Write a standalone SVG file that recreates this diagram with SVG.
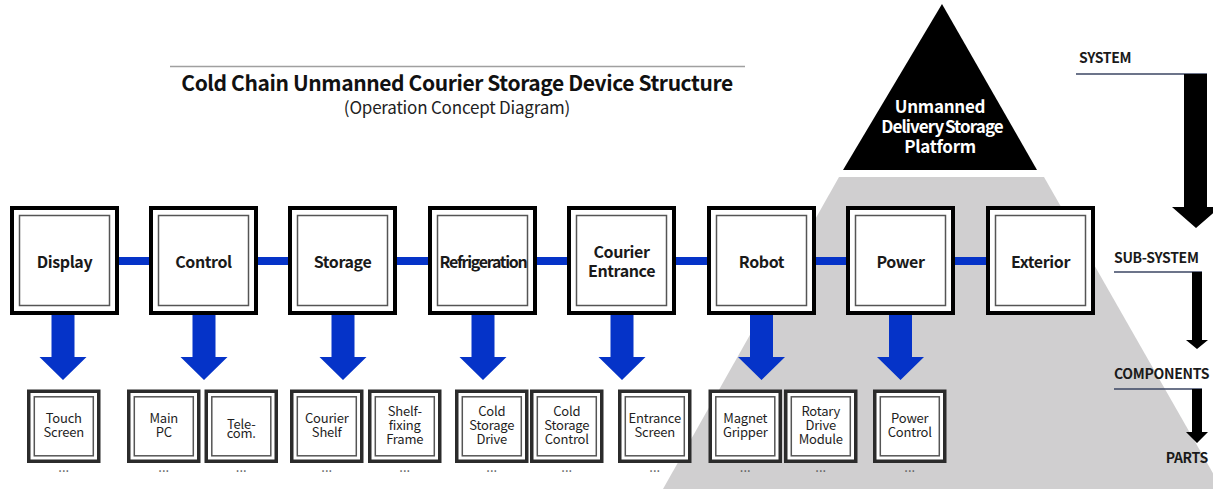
<svg xmlns="http://www.w3.org/2000/svg" width="1213" height="489" viewBox="0 0 1213 489">
<style>
  text { font-family: "Noto Sans CJK KR", "Noto Sans", "Liberation Sans", sans-serif; }
  .title { font-size: 21px; font-weight: 700; fill: #111; letter-spacing: -0.4px; }
  .subtitle { font-size: 17px; font-weight: 400; fill: #222; letter-spacing: -0.2px; }
  .sbo { fill: #fff; stroke: #000; stroke-width: 4; }
  .sbi { fill: none; stroke: #555; stroke-width: 1.5; }
  .slbl { font-size: 16px; font-weight: 700; fill: #1a1a1a; text-anchor: middle; letter-spacing: -0.4px; }
  .pbo { fill: #fff; stroke: #2b2b2b; stroke-width: 3.5; }
  .pbi { fill: none; stroke: #555; stroke-width: 1.5; }
  .plbl { font-size: 13px; font-weight: 400; fill: #1e1e1e; text-anchor: middle; letter-spacing: -0.2px; }
  .dots { font-size: 13px; fill: #555; text-anchor: middle; }
  .link { stroke: #0533c8; stroke-width: 8; }
  .barrow { fill: #0533c8; }
  .lvl { font-size: 14px; font-weight: 700; fill: #1a1a1a; letter-spacing: -0.3px; }
  .lvline { stroke: #3b4663; stroke-width: 1.5; }
  .pyr { font-size: 17px; font-weight: 700; fill: #fff; text-anchor: middle; letter-spacing: -0.3px; }
</style>

<!-- pyramid background -->
<polygon points="839,177 1044,177 1222,489 663,489" fill="#d0cfd0"/>
<g id="platform">
  <polygon points="942,4 1037,170 843,170" fill="#000"/>
  <text class="pyr" x="940" y="113">Unmanned</text>
  <text class="pyr" x="942" y="133" style="letter-spacing:-0.9px;word-spacing:-1.5px">Delivery Storage</text>
  <text class="pyr" x="940" y="153">Platform</text>
</g>

<!-- title -->
<g id="title">
  <line x1="170" y1="66.5" x2="745" y2="66.5" stroke="#a0a0a0" stroke-width="1.5"/>
  <text class="title" x="457" y="91" text-anchor="middle">Cold Chain Unmanned Courier Storage Device Structure</text>
  <text class="subtitle" x="457" y="114" text-anchor="middle">(Operation Concept Diagram)</text>
</g>

<!-- level legend -->
<g id="levels">
  <text class="lvl" x="1079" y="63">SYSTEM</text>
  <line class="lvline" x1="1076" y1="74" x2="1207" y2="74"/>
  <polygon points="1184,74 1207,74 1207,207 1220,207 1196,228 1172,207 1184,207" fill="#000"/>
  <text class="lvl" x="1114" y="263">SUB-SYSTEM</text>
  <line class="lvline" x1="1114" y1="272" x2="1202" y2="272"/>
  <polygon points="1192,272 1202,272 1202,340 1208,340 1197,349 1186,340 1192,340" fill="#000"/>
  <text class="lvl" x="1114" y="379">COMPONENTS</text>
  <line class="lvline" x1="1114" y1="389" x2="1202" y2="389"/>
  <polygon points="1192,389 1202,389 1202,432 1208,432 1197,443 1186,432 1192,432" fill="#000"/>
  <text class="lvl" x="1208" y="463" text-anchor="end">PARTS</text>
</g>

<!-- connectors -->
<g id="connectors">
  <line class="link" x1="119" y1="261" x2="149" y2="261"/>
  <line class="link" x1="258" y1="261" x2="288" y2="261"/>
  <line class="link" x1="397" y1="261" x2="428" y2="261"/>
  <line class="link" x1="537" y1="261" x2="567" y2="261"/>
  <line class="link" x1="676" y1="261" x2="707" y2="261"/>
  <line class="link" x1="816" y1="261" x2="846" y2="261"/>
  <line class="link" x1="955" y1="261" x2="986" y2="261"/>
  <polygon class="barrow" points="51.5,315 74.5,315 74.5,357 86.5,357 63,380 39.5,357 51.5,357"/>
  <polygon class="barrow" points="192.5,315 215.5,315 215.5,357 227.5,357 204,380 180.5,357 192.5,357"/>
  <polygon class="barrow" points="331.5,315 354.5,315 354.5,357 366.5,357 343,380 319.5,357 331.5,357"/>
  <polygon class="barrow" points="471.5,315 494.5,315 494.5,357 506.5,357 483,380 459.5,357 471.5,357"/>
  <polygon class="barrow" points="610.5,315 633.5,315 633.5,357 645.5,357 622,380 598.5,357 610.5,357"/>
  <polygon class="barrow" points="750,315 773,315 773,357 785,357 761.5,380 738,357 750,357"/>
  <polygon class="barrow" points="889,315 912,315 912,357 924,357 900.5,380 877,357 889,357"/>
</g>

<!-- sub-systems -->
<g id="display">
  <rect class="sbo" x="12" y="208" width="105" height="105"/>
  <rect class="sbi" x="19.5" y="215.5" width="90" height="90"/>
  <text class="slbl" x="64.5" y="268">Display</text>
</g>
<g id="control">
  <rect class="sbo" x="151" y="208" width="105" height="105"/>
  <rect class="sbi" x="158.5" y="215.5" width="90" height="90"/>
  <text class="slbl" x="203.5" y="268">Control</text>
</g>
<g id="storage">
  <rect class="sbo" x="290" y="208" width="105" height="105"/>
  <rect class="sbi" x="297.5" y="215.5" width="90" height="90"/>
  <text class="slbl" x="342.5" y="268">Storage</text>
</g>
<g id="refrigeration">
  <rect class="sbo" x="430" y="208" width="105" height="105"/>
  <rect class="sbi" x="437.5" y="215.5" width="90" height="90"/>
  <text class="slbl" x="483" y="268" style="letter-spacing:-1.3px">Refrigeration</text>
</g>
<g id="courier-entrance">
  <rect class="sbo" x="569" y="208" width="105" height="105"/>
  <rect class="sbi" x="576.5" y="215.5" width="90" height="90"/>
  <text class="slbl" x="621.5" y="258">Courier</text>
  <text class="slbl" x="621.5" y="277">Entrance</text>
</g>
<g id="robot">
  <rect class="sbo" x="709" y="208" width="105" height="105"/>
  <rect class="sbi" x="716.5" y="215.5" width="90" height="90"/>
  <text class="slbl" x="761.5" y="268">Robot</text>
</g>
<g id="power">
  <rect class="sbo" x="848" y="208" width="105" height="105"/>
  <rect class="sbi" x="855.5" y="215.5" width="90" height="90"/>
  <text class="slbl" x="900.5" y="268">Power</text>
</g>
<g id="exterior">
  <rect class="sbo" x="988" y="208" width="105" height="105"/>
  <rect class="sbi" x="995.5" y="215.5" width="90" height="90"/>
  <text class="slbl" x="1040.5" y="268">Exterior</text>
</g>

<!-- components / parts -->
<g id="touch-screen">
  <rect class="pbo" x="28.75" y="391.25" width="70" height="70"/>
  <rect class="pbi" x="34.3" y="396.8" width="59" height="59"/>
  <text class="plbl" x="63.75" y="422.5">Touch</text>
  <text class="plbl" x="63.75" y="436.5">Screen</text>
  <text class="dots" x="63.75" y="472">...</text>
</g>
<g id="main-pc">
  <rect class="pbo" x="128.75" y="391.25" width="70" height="70"/>
  <rect class="pbi" x="134.3" y="396.8" width="59" height="59"/>
  <text class="plbl" x="163.75" y="422.5">Main</text>
  <text class="plbl" x="163.75" y="436.5">PC</text>
  <text class="dots" x="163.75" y="472">...</text>
</g>
<g id="telecom">
  <rect class="pbo" x="206.25" y="391.25" width="70" height="70"/>
  <rect class="pbi" x="211.8" y="396.8" width="59" height="59"/>
  <text class="plbl" x="241.25" y="428.5">Tele-</text>
  <text class="plbl" x="241.25" y="438">com.</text>
  <text class="dots" x="241.25" y="472">...</text>
</g>
<g id="courier-shelf">
  <rect class="pbo" x="291.75" y="391.25" width="70" height="70"/>
  <rect class="pbi" x="297.3" y="396.8" width="59" height="59"/>
  <text class="plbl" x="326.75" y="422.5">Courier</text>
  <text class="plbl" x="326.75" y="436.5">Shelf</text>
  <text class="dots" x="326.75" y="472">...</text>
</g>
<g id="shelf-fixing-frame">
  <rect class="pbo" x="369.75" y="391.25" width="70" height="70"/>
  <rect class="pbi" x="375.3" y="396.8" width="59" height="59"/>
  <text class="plbl" x="404.75" y="415.5">Shelf-</text>
  <text class="plbl" x="404.75" y="429.5">fixing</text>
  <text class="plbl" x="404.75" y="443.5">Frame</text>
  <text class="dots" x="404.75" y="472">...</text>
</g>
<g id="cold-storage-drive">
  <rect class="pbo" x="456.75" y="391.25" width="70" height="70"/>
  <rect class="pbi" x="462.3" y="396.8" width="59" height="59"/>
  <text class="plbl" x="491.75" y="415.5">Cold</text>
  <text class="plbl" x="491.75" y="429.5">Storage</text>
  <text class="plbl" x="491.75" y="443.5">Drive</text>
  <text class="dots" x="491.75" y="472">...</text>
</g>
<g id="cold-storage-control">
  <rect class="pbo" x="531.75" y="391.25" width="70" height="70"/>
  <rect class="pbi" x="537.3" y="396.8" width="59" height="59"/>
  <text class="plbl" x="566.75" y="415.5">Cold</text>
  <text class="plbl" x="566.75" y="429.5">Storage</text>
  <text class="plbl" x="566.75" y="443.5">Control</text>
  <text class="dots" x="566.75" y="472">...</text>
</g>
<g id="entrance-screen">
  <rect class="pbo" x="619.75" y="391.25" width="70" height="70"/>
  <rect class="pbi" x="625.3" y="396.8" width="59" height="59"/>
  <text class="plbl" x="654.75" y="422.5">Entrance</text>
  <text class="plbl" x="654.75" y="436.5">Screen</text>
  <text class="dots" x="654.75" y="472">...</text>
</g>
<g id="magnet-gripper">
  <rect class="pbo" x="710.25" y="391.25" width="70" height="70"/>
  <rect class="pbi" x="715.8" y="396.8" width="59" height="59"/>
  <text class="plbl" x="745.25" y="422.5">Magnet</text>
  <text class="plbl" x="745.25" y="436.5">Gripper</text>
  <text class="dots" x="745.25" y="472">...</text>
</g>
<g id="rotary-drive-module">
  <rect class="pbo" x="785.75" y="391.25" width="70" height="70"/>
  <rect class="pbi" x="791.3" y="396.8" width="59" height="59"/>
  <text class="plbl" x="820.75" y="415.5">Rotary</text>
  <text class="plbl" x="820.75" y="429.5">Drive</text>
  <text class="plbl" x="820.75" y="443.5">Module</text>
  <text class="dots" x="820.75" y="472">...</text>
</g>
<g id="power-control">
  <rect class="pbo" x="874.75" y="391.25" width="70" height="70"/>
  <rect class="pbi" x="880.3" y="396.8" width="59" height="59"/>
  <text class="plbl" x="909.75" y="422.5">Power</text>
  <text class="plbl" x="909.75" y="436.5">Control</text>
  <text class="dots" x="909.75" y="472">...</text>
</g>
</svg>
